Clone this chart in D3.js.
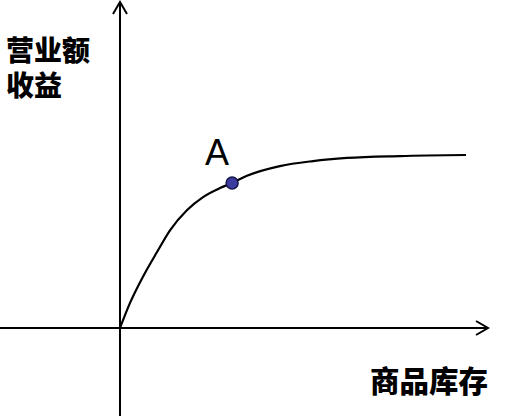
<!DOCTYPE html>
<html>
<head>
<meta charset="utf-8">
<script src="https://cdn.jsdelivr.net/npm/d3@7"></script>
<style>
  body { margin: 0; background: #fff; }
  svg { display: block; }
</style>
</head>
<body>
<div id="chart-area"></div>
<script>
// curve: inventory vs revenue (arbitrary units)
const stockValues = [0, 2.9, 6.6, 10.7, 14.5, 19.4, 24.0, 28.9, 32.4, 36.7, 46.2, 55.8, 65.6, 80.9, 100]
const revenueValues = [0, 14.5, 29.5, 43.9, 56.6, 68.2, 75.7, 80.9, 83.8, 88.0, 93.6, 96.5, 98.3, 99.4, 100]
const pointA = { label: "A", stock: 32.4, revenue: 83.8 }
const yLabel = ["营业额", "收益"]
const xLabel = "商品库存"

const width = 509
const height = 416

const svg = d3.select("#chart-area").append("svg")
	.attr("width", width)
	.attr("height", height)

const x = d3.scaleLinear()
	.domain([0, 100])
	.range([120, 466])

const y = d3.scaleLinear()
	.domain([0, 100])
	.range([328, 155])

// axes through the origin
const ox = x(0), oy = y(0)
const axisColor = "#000"

svg.append("line")
	.attr("x1", 0).attr("y1", oy)
	.attr("x2", 488).attr("y2", oy)
	.attr("stroke", axisColor).attr("stroke-width", 2)
svg.append("path")
	.attr("d", `M${488 - 12},${oy - 7}L488,${oy}L${488 - 12},${oy + 7}`)
	.attr("fill", "none").attr("stroke", axisColor).attr("stroke-width", 2)

svg.append("line")
	.attr("x1", ox).attr("y1", height)
	.attr("x2", ox).attr("y2", 2)
	.attr("stroke", axisColor).attr("stroke-width", 2)
svg.append("path")
	.attr("d", `M${ox - 7},${2 + 12}L${ox},2L${ox + 7},${2 + 12}`)
	.attr("fill", "none").attr("stroke", axisColor).attr("stroke-width", 2)

// curve
const line = d3.line()
	.x(i => x(stockValues[i]))
	.y(i => y(revenueValues[i]))
	.curve(d3.curveMonotoneX)

svg.append("path")
	.attr("d", line(d3.range(stockValues.length)))
	.attr("fill", "none")
	.attr("stroke", "#000")
	.attr("stroke-width", 2.2)

// point A
svg.append("circle")
	.attr("cx", x(pointA.stock))
	.attr("cy", y(pointA.revenue))
	.attr("r", 6)
	.attr("fill", "#3b3ba0")
	.attr("stroke", "#16164a")
	.attr("stroke-width", 1.5)

svg.append("text")
	.attr("x", x(pointA.stock) - 27)
	.attr("y", y(pointA.revenue) - 18)
	.attr("font-family", "Liberation Sans, Arial, sans-serif")
	.attr("font-size", "36px")
	.attr("fill", "#000")
	.text(pointA.label)

// labels (y label wrapped on two lines)
const yText = svg.append("text")
	.attr("class", "y-label")
	.attr("y", 61)
	.attr("font-family", "Noto Sans CJK SC")
	.attr("font-weight", 900)
	.attr("font-size", "28px")
	.attr("fill", "#000")

yText.selectAll("tspan")
	.data(yLabel)
	.enter().append("tspan")
	.attr("x", 6)
	.attr("dy", (d, i) => i === 0 ? 0 : 35)
	.text(d => d)

svg.append("text")
	.attr("x", 488)
	.attr("y", 392)
	.attr("text-anchor", "end")
	.attr("font-family", "Noto Sans CJK SC")
	.attr("font-weight", 900)
	.attr("font-size", "29.5px")
	.attr("fill", "#000")
	.text(xLabel)
</script>
</body>
</html>
